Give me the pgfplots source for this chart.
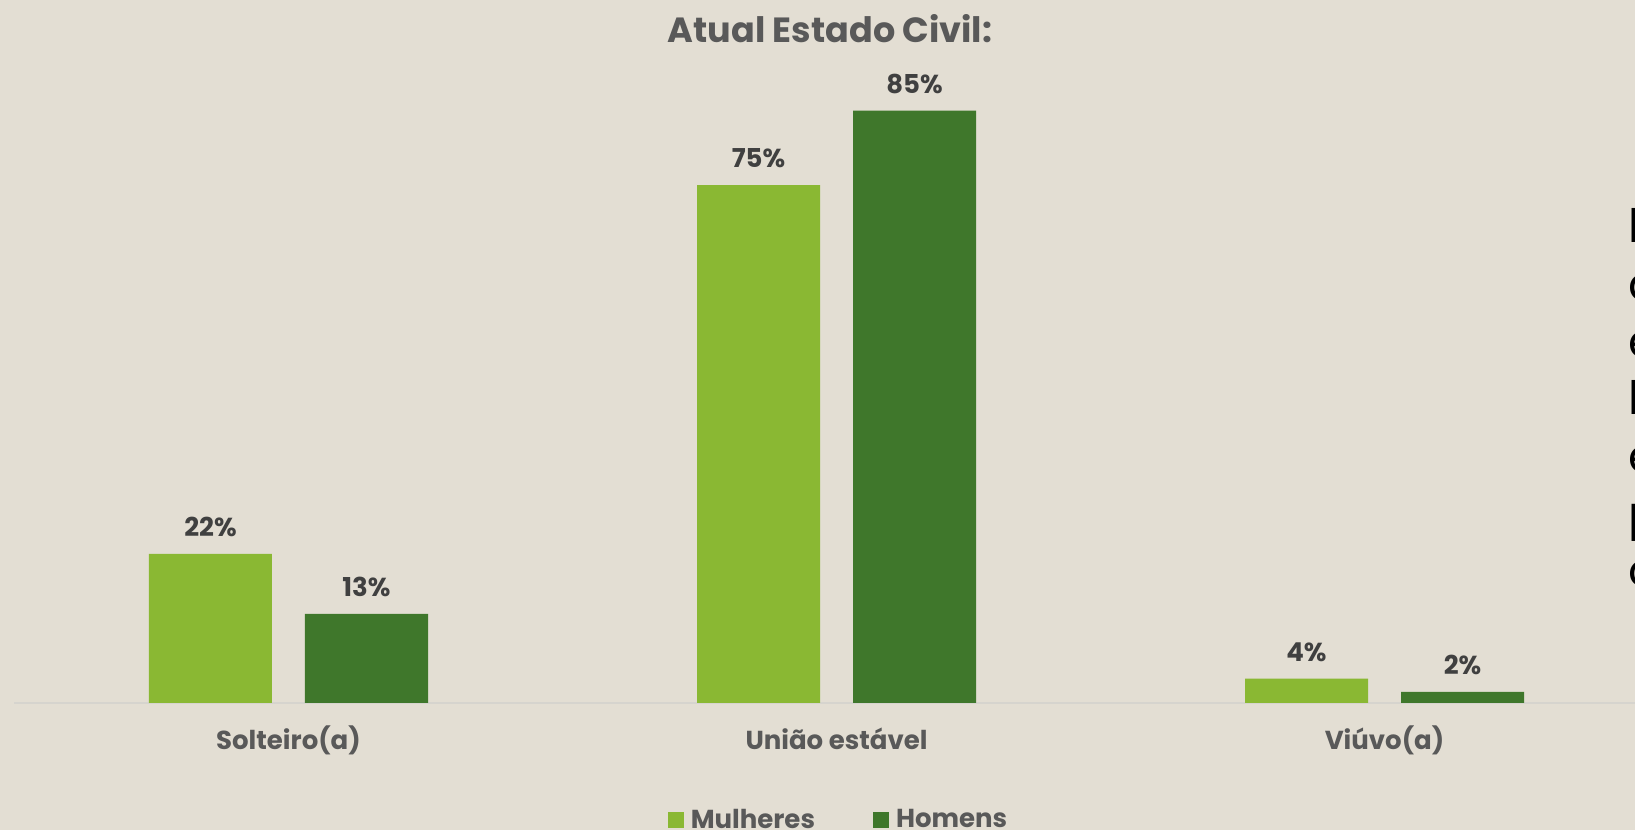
\documentclass[border=0pt]{standalone}
\usepackage{pgfplots}
\pgfplotsset{compat=1.18}
\usepackage{fontspec}
\setmainfont{Poppins}
\definecolor{bg}{HTML}{E3DED3}
\definecolor{lgreen}{HTML}{8AB833}
\definecolor{dgreen}{HTML}{3F772B}
\definecolor{titlegray}{HTML}{595959}
\definecolor{labelgray}{HTML}{404040}
\definecolor{axisgray}{HTML}{D6D4CE}
\begin{document}
\begin{tikzpicture}[x=1pt,y=1pt]
\useasboundingbox (0,0) rectangle (817.5,415);
\fill[bg] (0,0) rectangle (817.5,415);
\clip (0,0) rectangle (817.5,415);
\node[anchor=base, inner sep=0pt, font=\bfseries\fontsize{17.5}{20}\selectfont, text=titlegray] at (415,393.5) {Atual Estado Civil:};
\foreach \c [count=\i from 0] in {l,a,e,h,e,p,o}
  \node[anchor=base west, inner sep=0pt, font=\fontsize{23}{28}\selectfont, text=black] at (814,{293.5-28.65*\i}) {\c};
\begin{axis}[
  at={(7.25pt,63.5pt)}, anchor=south west,
  scale only axis, width=822pt, height=348.5pt,
  xmin=-0.5, xmax=2.5, ymin=0, ymax=100,
  clip=false,
  ybar=16.5pt, bar width=61.5pt,
  axis x line*=bottom, axis y line=none,
  x axis line style={axisgray, line width=0.8pt, -},
  xtick={0,1,2}, xticklabels={Solteiro(a), União estável, Viúvo(a)},
  major tick length=0pt,
  xticklabel style={font=\bfseries\fontsize{13}{15}\selectfont, text=titlegray, anchor=base, inner sep=0pt, yshift=-23.5pt},
  point meta=explicit symbolic,
  nodes near coords,
  nodes near coords style={font=\bfseries\fontsize{13}{15}\selectfont, text=labelgray, anchor=base, inner sep=0pt, yshift=8.75pt},
  legend columns=2,
  legend style={at={(0.5018,-0.1901)}, anchor=south, draw=none, fill=none, inner sep=0pt,
    font=\bfseries\fontsize{13}{15}\selectfont, text=titlegray,
    /tikz/every odd column/.append style={column sep=1.5pt},
    /tikz/every even column/.append style={column sep=27pt}},
  legend image code/.code={\fill[#1] (0pt,-4pt) rectangle (8pt,4pt);},
]
\addplot[fill=lgreen, draw=none] coordinates {(0,21.4) [22\%] (1,74.3) [75\%] (2,3.5) [4\%]};
\addplot[fill=dgreen, draw=none] coordinates {(0,12.8) [13\%] (1,85) [85\%] (2,1.6) [2\%]};
\legend{Mulheres, Homens}
\end{axis}
\end{tikzpicture}
\end{document}
